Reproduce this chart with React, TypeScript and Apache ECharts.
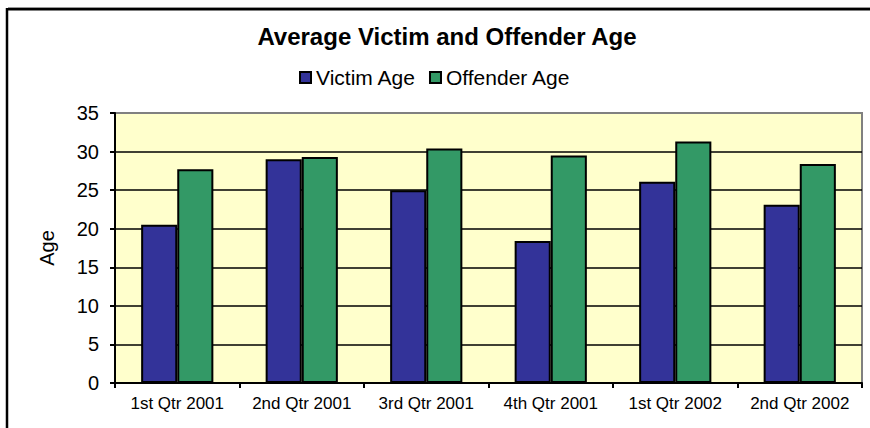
import React, { useEffect, useRef } from "react";
import * as echarts from "echarts";

const categories = ["1st Qtr 2001", "2nd Qtr 2001", "3rd Qtr 2001", "4th Qtr 2001", "1st Qtr 2002", "2nd Qtr 2002"];
const victimAge = [20.5, 29.0, 25.0, 18.4, 26.1, 23.1];
const offenderAge = [27.7, 29.3, 30.4, 29.5, 31.3, 28.4];
const seriesNames = ["Victim Age", "Offender Age"];
const titleText = "Average Victim and Offender Age";
const yAxisName = "Age";

const FONT = "'Liberation Sans', Arial, sans-serif";

export default function App() {
  const ref = useRef<HTMLDivElement>(null);
  useEffect(() => {
    if (!ref.current) return;
    const chart = echarts.init(ref.current, null, { renderer: "svg" });
    chart.setOption({
      animation: false,
      backgroundColor: "#ffffff",
      textStyle: { fontFamily: FONT, color: "#000" },
      title: {
        text: titleText,
        left: 442,
        textAlign: "center",
        top: 19,
        textStyle: { fontFamily: FONT, fontSize: 24, fontWeight: "bold", color: "#000" },
      },
      legend: {
        left: 294,
        top: 62,
        itemWidth: 11,
        itemHeight: 11,
        itemGap: 13,
        itemStyle: { borderColor: "#000", borderWidth: 2 },
        textStyle: { fontFamily: FONT, fontSize: 21, color: "#000" },
        data: seriesNames.map((n) => ({ name: n, icon: "rect" })),
      },
      grid: {
        left: 115,
        right: 8,
        top: 113,
        bottom: 45,
        show: true,
        backgroundColor: "#FFFFCC",
        borderColor: "#808080",
        borderWidth: 2,
        containLabel: false,
      },
      xAxis: {
        type: "category",
        data: categories,
        boundaryGap: true,
        axisLine: { show: true, lineStyle: { color: "#000", width: 2 } },
        axisTick: { show: true, length: 5, interval: 0, lineStyle: { color: "#000", width: 2 } },
        axisLabel: { interval: 0, fontFamily: FONT, fontSize: 17, color: "#000", margin: 12 },
      },
      yAxis: {
        type: "value",
        min: 0,
        max: 35,
        interval: 5,
        name: yAxisName,
        nameLocation: "middle",
        nameGap: 58,
        nameRotate: 90,
        nameTextStyle: { fontFamily: FONT, fontSize: 20, color: "#000" },
        axisLine: { show: true, lineStyle: { color: "#000", width: 2 } },
        axisTick: { show: true, length: 5, lineStyle: { color: "#000", width: 2 } },
        axisLabel: { fontFamily: FONT, fontSize: 20, color: "#000", margin: 16 },
        splitLine: { show: true, showMaxLine: false, lineStyle: { color: "#000", width: 1.5 } },
      },
      graphic: [
        {
          type: "polyline",
          shape: { points: [[7, 1000], [7, 9.3], [1000, 9.3]] },
          style: { fill: "none", stroke: "#000", lineWidth: 2.5 },
          z: 100,
        },
        {
          type: "line",
          shape: { x1: 8, y1: 7.5, x2: 1000, y2: 7.5 },
          style: { stroke: "#999", lineWidth: 1 },
          z: 99,
        },
      ],
      series: [
        {
          name: seriesNames[0],
          type: "bar",
          data: victimAge,
          barGap: "0%",
          barCategoryGap: "42%",
          itemStyle: { color: "#333399", borderColor: "#000", borderWidth: 2 },
        },
        {
          name: seriesNames[1],
          type: "bar",
          data: offenderAge,
          barGap: "0%",
          barCategoryGap: "42%",
          itemStyle: { color: "#339966", borderColor: "#000", borderWidth: 2 },
        },
      ],
    });
    return () => chart.dispose();
  }, []);
  return (
    <div
      ref={ref}
      style={{ position: "fixed", left: 0, top: 0, width: 870, height: 428 }}
    />
  );
}
